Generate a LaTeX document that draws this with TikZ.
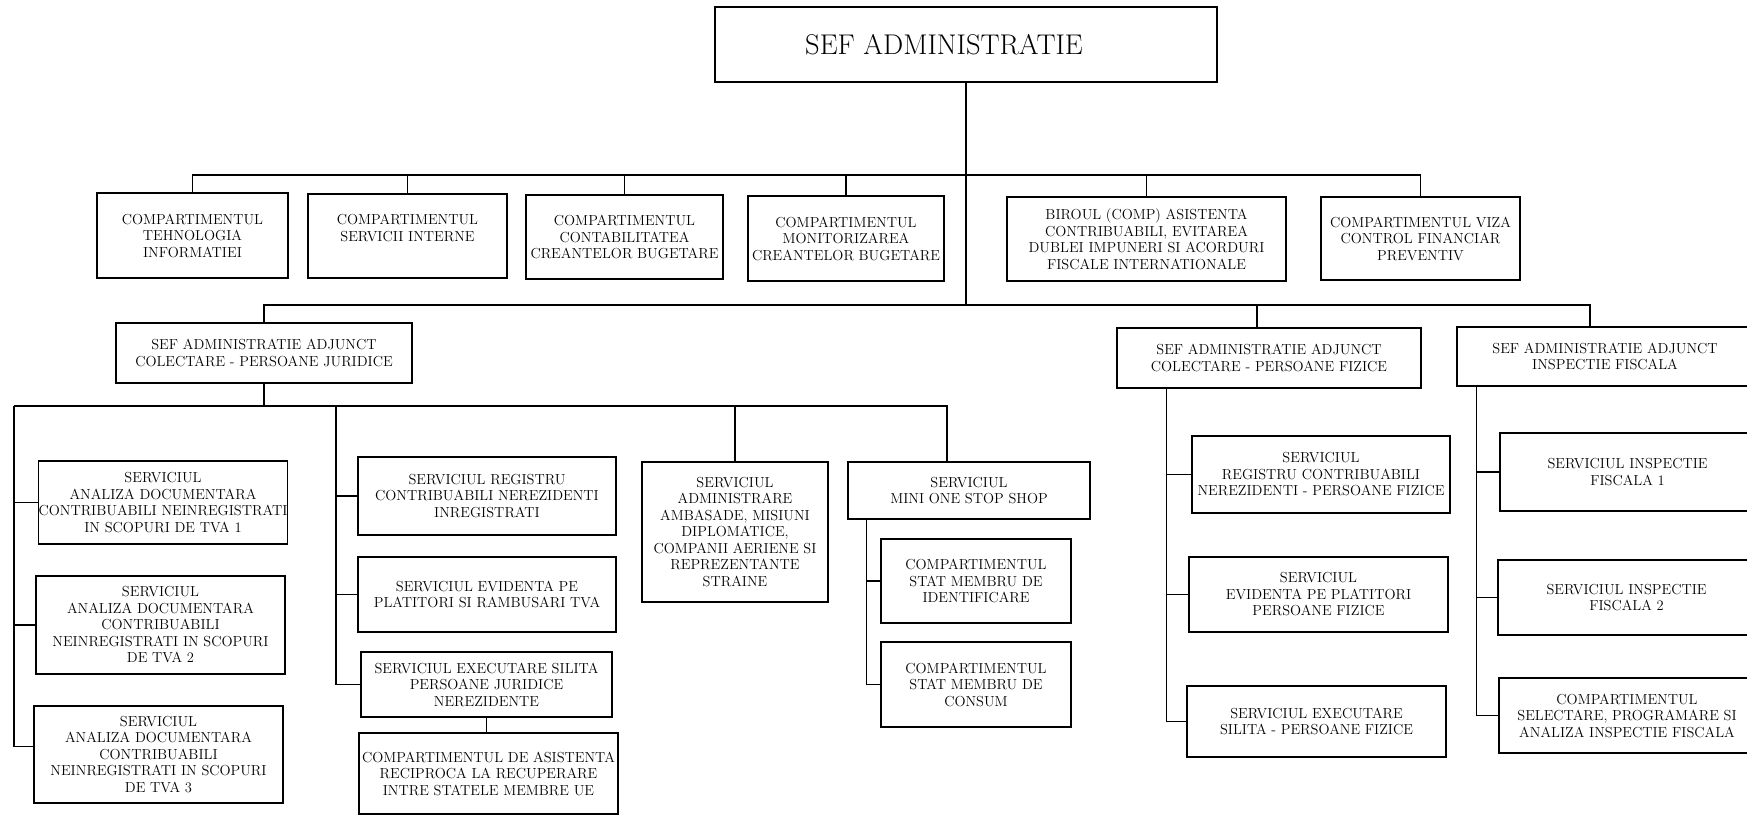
\documentclass[tikz,border=0pt]{standalone}
\usepackage{tikz}
\usetikzlibrary{positioning,calc}
\newcommand{\orgfont}{\fontsize{14.5}{16.5}\selectfont}
\newcommand{\headfont}{\fontsize{28.5}{32}\selectfont}

\begin{document}
\begin{tikzpicture}[
    x=1pt, y=-1pt,
    wire/.style={line width=1.2pt},
    unit/.style={draw, line width=1.2pt, rectangle, inner sep=0pt, align=center, font=\orgfont},
    head/.style={unit, font=\headfont},
    sz/.style 2 args={minimum width=#1pt, minimum height=#2pt}]
\path[use as bounding box] (0,0) rectangle (1747,816);
\clip (0,0) rectangle (1747,816);

\node[head, sz={502}{75}] (SA) at (966,44.5) {SEF ADMINISTRATIE\hspace*{44pt}};

\node[unit, sz={191}{85}] (TI)  at (192.5,235.5) {COMPARTIMENTUL\\TEHNOLOGIA\\INFORMATIEI};
\node[unit, sz={199}{84}] (SI)  at (407.5,236)   {COMPARTIMENTUL\\SERVICII INTERNE\\\mbox{}};
\node[unit, sz={197}{84}] (CCB) at (624.5,237)   {COMPARTIMENTUL\\CONTABILITATEA\\CREANTELOR BUGETARE};
\node[unit, sz={196}{85}] (MCB) at (846,238.5)   {COMPARTIMENTUL\\MONITORIZAREA\\CREANTELOR BUGETARE};
\node[unit, sz={279}{84}] (BAC) at (1146.5,239)  {BIROUL (COMP) ASISTENTA\\CONTRIBUABILI, EVITAREA\\DUBLEI IMPUNERI SI ACORDURI\\FISCALE INTERNATIONALE};
\node[unit, sz={199}{83}] (VCF) at (1420.5,238.5) {COMPARTIMENTUL VIZA\\CONTROL FINANCIAR\\PREVENTIV};

\node[unit, sz={296}{60}] (AJ) at (264,353)    {SEF ADMINISTRATIE ADJUNCT\\COLECTARE - PERSOANE JURIDICE};
\node[unit, sz={304}{60}] (AF) at (1269,358)   {SEF ADMINISTRATIE ADJUNCT\\COLECTARE - PERSOANE FIZICE};
\node[unit, sz={296}{59}] (AI) at (1605,356.5) {SEF ADMINISTRATIE ADJUNCT\\INSPECTIE FISCALA};

\node[unit, sz={248}{83}] (AD1) at (163,502.5) {SERVICIUL\\ANALIZA DOCUMENTARA\\CONTRIBUABILI NEINREGISTRATI\\IN SCOPURI DE TVA 1};
\node[unit, sz={249}{98}] (AD2) at (160.5,625) {SERVICIUL\\ANALIZA DOCUMENTARA\\CONTRIBUABILI\\NEINREGISTRATI IN SCOPURI\\DE TVA 2};
\node[unit, sz={249}{97}] (AD3) at (158.5,754.5) {SERVICIUL\\ANALIZA DOCUMENTARA\\CONTRIBUABILI\\NEINREGISTRATI IN SCOPURI\\DE TVA 3};

\node[unit, sz={258}{78}] (RCN) at (487,496)   {SERVICIUL REGISTRU\\CONTRIBUABILI NEREZIDENTI\\INREGISTRATI};
\node[unit, sz={258}{75}] (EPR) at (487,594.5) {SERVICIUL EVIDENTA PE\\PLATITORI SI RAMBUSARI TVA};
\node[unit, sz={251}{65}] (ESJ) at (486.5,684.5) {SERVICIUL EXECUTARE SILITA\\PERSOANE JURIDICE\\NEREZIDENTE};
\node[unit, sz={259}{81}] (CAR) at (488.5,773.5) {COMPARTIMENTUL DE ASISTENTA\\RECIPROCA LA RECUPERARE\\INTRE STATELE MEMBRE UE};

\node[unit, sz={186}{140}] (AMB) at (735,532) {SERVICIUL\\ADMINISTRARE\\AMBASADE, MISIUNI\\DIPLOMATICE,\\COMPANII AERIENE SI\\REPREZENTANTE\\STRAINE};
\node[unit, sz={242}{57}] (MOSS) at (969,490.5) {SERVICIUL\\MINI ONE STOP SHOP};
\node[unit, sz={190}{84}] (SMI) at (976,581)   {COMPARTIMENTUL\\STAT MEMBRU DE\\IDENTIFICARE};
\node[unit, sz={190}{85}] (SMC) at (976,684.5) {COMPARTIMENTUL\\STAT MEMBRU DE\\CONSUM};

\node[unit, sz={258}{77}] (RCF) at (1321,474.5)   {SERVICIUL\\REGISTRU CONTRIBUABILI\\NEREZIDENTI - PERSOANE FIZICE};
\node[unit, sz={259}{75}] (EPF) at (1318.5,594.5) {SERVICIUL\\EVIDENTA PE PLATITORI\\PERSOANE FIZICE};
\node[unit, sz={259}{71}] (ESF) at (1316.5,721.5) {SERVICIUL EXECUTARE\\SILITA - PERSOANE FIZICE};

\node[unit, sz={255}{78}] (IF1) at (1627.5,472)   {SERVICIUL INSPECTIE\\FISCALA 1};
\node[unit, sz={257}{75}] (IF2) at (1626.5,597.5) {SERVICIUL INSPECTIE\\FISCALA 2};
\node[unit, sz={256}{75}] (SPA) at (1627,715.5)   {COMPARTIMENTUL\\SELECTARE, PROGRAMARE SI\\ANALIZA INSPECTIE FISCALA};

\coordinate (B1) at (0,175);
\coordinate (B2) at (0,305);
\coordinate (VA) at (14,406);
\coordinate (VB) at (336,406);
\coordinate (VD) at (947,406);
\coordinate (AFtop) at ([xshift=-12pt]AF.north);
\coordinate (AItop) at ([xshift=-15pt]AI.north);
\coordinate (VM) at ([xshift=19pt]MOSS.south west);
\coordinate (VF) at ([xshift=50pt]AF.south west);
\coordinate (VI) at ([xshift=20pt]AI.south west);

\path[draw, wire] (TI.north) -- (TI.north |- B1) -- (VCF.north |- B1) -- (VCF.north);
\path[draw, wire] (SI.north) -- (SI.north |- B1);
\path[draw, wire] (CCB.north) -- (CCB.north |- B1);
\path[draw, wire] (MCB.north) -- (MCB.north |- B1);
\path[draw, wire] (BAC.north) -- (BAC.north |- B1);
\path[draw, wire] (SA.south) -- (SA.south |- B2);
\path[draw, wire] (AJ.north) -- (AJ.north |- B2) -- (AItop |- B2) -- (AItop);
\path[draw, wire] (AFtop) -- (AFtop |- B2);

\path[draw, wire] (AJ.south) -- (AJ.south |- VA);
\path[draw, wire] (VA) -- (VD) -- (VD |- MOSS.north);
\path[draw, wire] (VA) |- ([yshift=8pt]AD3.west);
\path[draw, wire] (AD1.west) -- (AD1.west -| VA);
\path[draw, wire] (AD2.west) -- (AD2.west -| VA);
\path[draw, wire] (VB) |- (ESJ.west);
\path[draw, wire] (RCN.west) -- (RCN.west -| VB);
\path[draw, wire] (EPR.west) -- (EPR.west -| VB);
\path[draw, wire] (ESJ.south) -- (ESJ.south |- CAR.north);
\path[draw, wire] (AMB.north) -- (AMB.north |- VA);
\path[draw, wire] (VM) |- (SMC.west);
\path[draw, wire] (SMI.west) -- (SMI.west -| VM);

\path[draw, wire] (VF) |- (ESF.west);
\path[draw, wire] (RCF.west) -- (RCF.west -| VF);
\path[draw, wire] (EPF.west) -- (EPF.west -| VF);
\path[draw, wire] (VI) |- (SPA.west);
\path[draw, wire] (IF1.west) -- (IF1.west -| VI);
\path[draw, wire] (IF2.west) -- (IF2.west -| VI);

\end{tikzpicture}
\end{document}
